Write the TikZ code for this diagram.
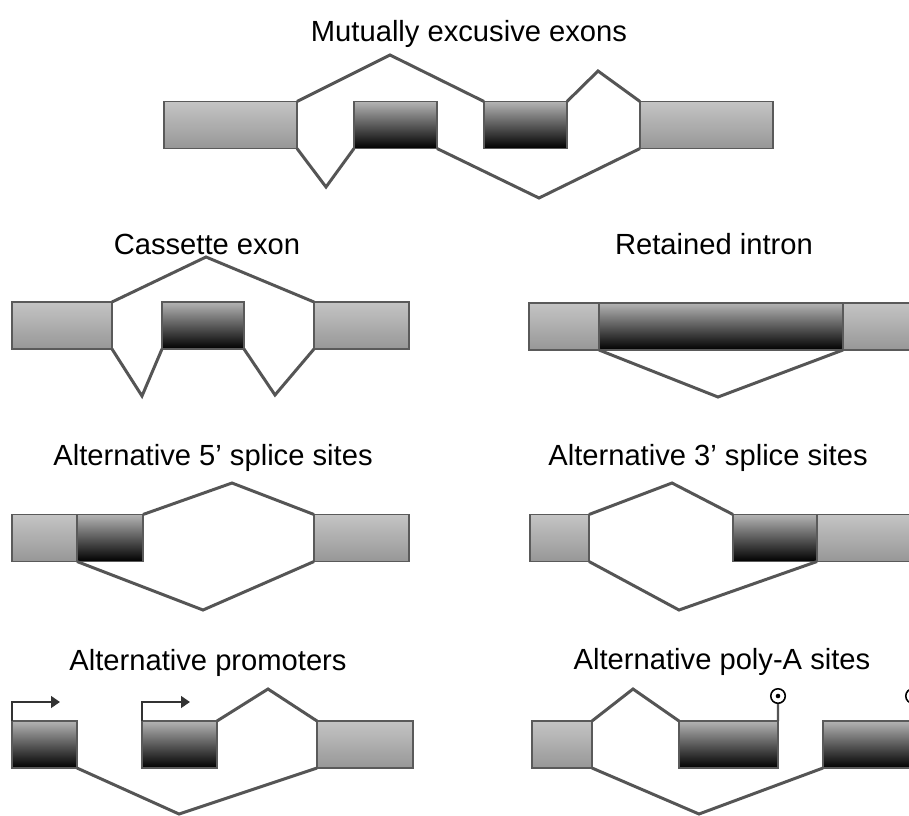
\documentclass[tikz,border=0pt]{standalone}
\usepackage{fontspec}
\setmainfont{Liberation Sans}
\usetikzlibrary{arrows.meta}
\definecolor{splice}{HTML}{555555}
\definecolor{rim}{HTML}{5A5A5A}
\definecolor{lighttop}{HTML}{C4C4C4}
\definecolor{lightbot}{HTML}{979797}
\definecolor{darktop}{HTML}{B4B4B4}
\begin{document}
\begin{tikzpicture}[x=0.02cm,y=-0.02cm,line join=miter,>={Triangle[length=5pt,width=6.5pt]},
  font=\fontsize{16.6}{19}\selectfont,
  box/.style={draw=rim,line width=0.6pt,inner sep=0pt,outer sep=0pt,anchor=north west,minimum height=47*0.02cm},
  exw/.style={minimum width=#1*0.02cm},
  light/.style={box,top color=lighttop,bottom color=lightbot},
  dark/.style={box,top color=darktop,bottom color=black},
  intron/.style={draw=splice,line width=1.7pt},
  tss/.style={draw=black!80,line width=1.4pt},
  polya/.style={circle,draw=black,line width=0.9pt,inner sep=0pt,minimum size=14.5*0.02cm,
    path picture={\fill[black] (path picture bounding box.center) circle (1.3pt);}},
  title/.style={anchor=base,inner sep=0pt}]
\def\W{909}
\def\H{815}
\useasboundingbox (0,0) rectangle (\W,\H);
\fill[white] (0,0) rectangle (\W,\H);
\clip (0,0) rectangle (\W,\H);

\node[title] (mxT) at (469,41.7) {Mutually excusive exons};
\node[light,exw=133] (mxA) at (164,101.5) {};
\node[dark,exw=83] (mxB) at (354,101.5) {};
\node[dark,exw=83] (mxC) at (484,101.5) {};
\node[light,exw=133] (mxD) at (640,101.5) {};
\coordinate (mxP1) at (390,55);
\coordinate (mxP2) at (598,71);
\coordinate (mxV1) at (326,187);
\coordinate (mxV2) at (539,198);
\draw[intron] (mxA.north east) -- (mxP1) -- (mxC.north west);
\draw[intron] (mxC.north east) -- (mxP2) -- (mxD.north west);
\draw[intron] (mxA.south east) -- (mxV1) -- (mxB.south west);
\draw[intron] (mxB.south east) -- (mxV2) -- (mxD.south west);

\node[title] (csT) at (207,254) {Cassette exon};
\node[light,exw=100] (csA) at (12,302) {};
\node[dark,exw=82] (csB) at (162,302) {};
\node[light,exw=95] (csC) at (314,302) {};
\coordinate (csP) at (206,257);
\coordinate (csV1) at (142,396);
\coordinate (csV2) at (275,395);
\draw[intron] (csA.north east) -- (csP) -- (csC.north west);
\draw[intron] (csA.south east) -- (csV1) -- (csB.south west);
\draw[intron] (csB.south east) -- (csV2) -- (csC.south west);

\node[title] (riT) at (714,254) {Retained intron};
\node[light,exw=70] (riA) at (529,303) {};
\node[dark,exw=244] (riB) at (599,303) {};
\node[light,exw=97] (riC) at (843,303) {};
\coordinate (riV) at (718,397);
\draw[intron] (riA.south east) -- (riV) -- (riC.south west);

\node[title] (fpT) at (213,465) {Alternative 5’ splice sites};
\node[light,exw=65] (fpA) at (12,514.5) {};
\node[dark,exw=66] (fpB) at (77,514.5) {};
\node[light,exw=95] (fpC) at (314,514.5) {};
\coordinate (fpP) at (232,483);
\coordinate (fpV) at (203,610);
\draw[intron] (fpB.north east) -- (fpP) -- (fpC.north west);
\draw[intron] (fpA.south east) -- (fpV) -- (fpC.south west);

\node[title] (tpT) at (708,465) {Alternative 3’ splice sites};
\node[light,exw=59] (tpA) at (530,514.5) {};
\node[dark,exw=84] (tpB) at (733,514.5) {};
\node[light,exw=123] (tpC) at (817,514.5) {};
\coordinate (tpP) at (672,483);
\coordinate (tpV) at (679,610);
\draw[intron] (tpA.north east) -- (tpP) -- (tpB.north west);
\draw[intron] (tpA.south east) -- (tpV) -- (tpB.south east);

\node[title] (prT) at (208,670) {Alternative promoters};
\node[dark,exw=65] (prA) at (12,721) {};
\node[dark,exw=75] (prB) at (142,721) {};
\node[light,exw=96] (prC) at (317,721) {};
\coordinate (prP) at (268,689);
\coordinate (prV) at (179,814);
\coordinate (prAk) at (12,702);
\coordinate (prAt) at (60,702);
\coordinate (prBk) at (142,702);
\coordinate (prBt) at (190,702);
\draw[intron] (prB.north east) -- (prP) -- (prC.north west);
\draw[intron] (prA.south east) -- (prV) -- (prC.south west);
\draw[tss,->] (prA.north west) -- (prAk) -- (prAt);
\draw[tss,->] (prB.north west) -- (prBk) -- (prBt);

\node[title] (paT) at (722,669) {Alternative poly-A sites};
\node[light,exw=60] (paA) at (532,721) {};
\node[dark,exw=99] (paB) at (679,721) {};
\node[dark,exw=90] (paC) at (823,721) {};
\node[polya] (paR1) at (778,696) {};
\node[polya] (paR2) at (913,696) {};
\coordinate (paP) at (633,689);
\coordinate (paV) at (699,814);
\draw[intron] (paA.north east) -- (paP) -- (paB.north west);
\draw[intron] (paA.south east) -- (paV) -- (paC.south west);
\draw[splice,line width=1.2pt] (paB.north east) -- (paR1.south);
\draw[splice,line width=1.2pt] (paC.north east) -- (paR2.south);
\end{tikzpicture}
\end{document}
